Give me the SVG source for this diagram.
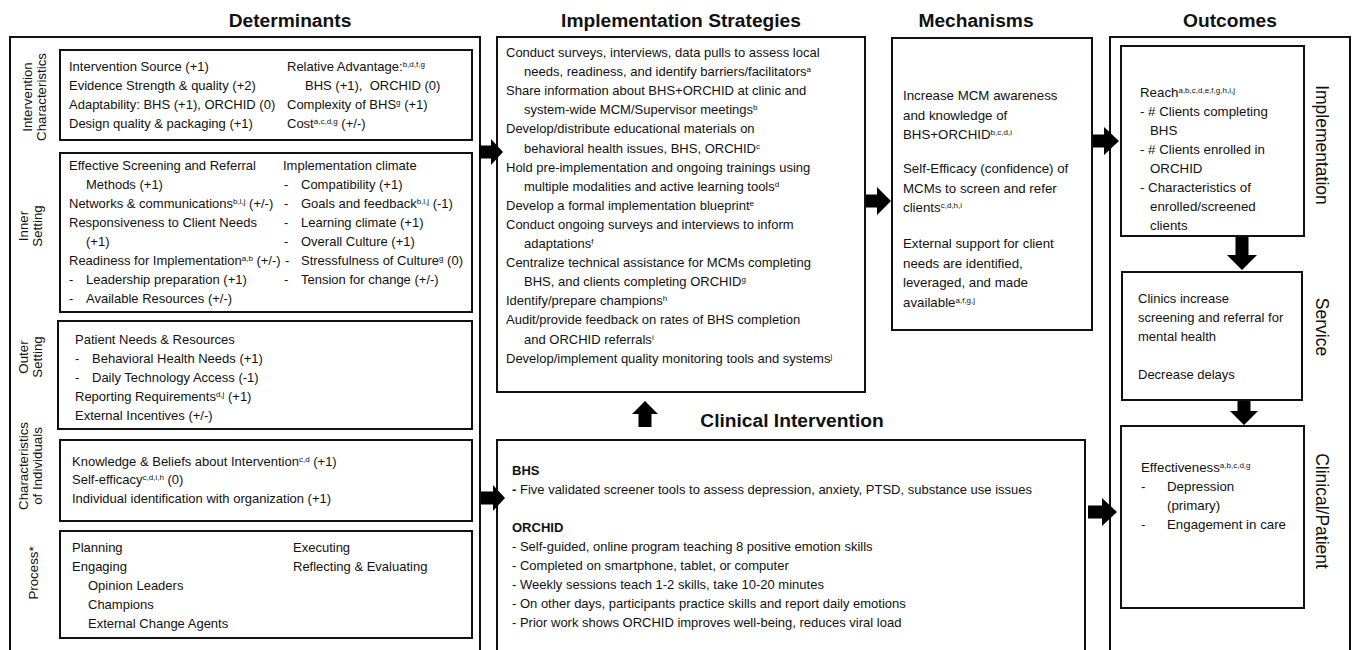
<svg xmlns="http://www.w3.org/2000/svg" width="1355" height="650" viewBox="0 0 1355 650">
<style>
text{font-family:"Liberation Sans",Arial,sans-serif;fill:#111;}
.t{font-size:13px;}
.m{font-size:13.3px;}
.h{font-size:19.2px;font-weight:bold;}
.b{font-weight:bold;}
.lbl{font-size:13.3px;text-anchor:middle;}
.rl{font-size:17.5px;text-anchor:middle;}
.box{fill:#fff;stroke:#111;stroke-width:2;}
.arr{fill:#000;stroke:none;}
.s{font-size:8px;baseline-shift:super;}
</style>
<rect width="1355" height="650" fill="#fff"/>

<g id="titles">
<text class="h" x="290" y="27" text-anchor="middle">Determinants</text>
<text class="h" x="681" y="27" text-anchor="middle">Implementation Strategies</text>
<text class="h" x="976" y="27" text-anchor="middle">Mechanisms</text>
<text class="h" x="1230" y="27" text-anchor="middle">Outcomes</text>
<text class="h" x="792" y="427" text-anchor="middle">Clinical Intervention</text>
</g>

<g id="determinants">
<rect class="box" x="10" y="37" width="470" height="630"/>
<text class="lbl" transform="translate(32,97) rotate(-90)">Intervention</text>
<text class="lbl" transform="translate(46,97) rotate(-90)">Characteristics</text>
<text class="lbl" transform="translate(28,226) rotate(-90)">Inner</text>
<text class="lbl" transform="translate(42,226) rotate(-90)">Setting</text>
<text class="lbl" transform="translate(28,357) rotate(-90)">Outer</text>
<text class="lbl" transform="translate(42,357) rotate(-90)">Setting</text>
<text class="lbl" transform="translate(28,466) rotate(-90)">Characteristics</text>
<text class="lbl" transform="translate(42,466) rotate(-90)">of Individuals</text>
<text class="lbl" transform="translate(38,573) rotate(-90)">Process*</text>
</g>

<g id="intervention-characteristics">
<rect class="box" x="60" y="50" width="412" height="90"/>
<text class="t" x="69" y="71">Intervention Source (+1)</text>
<text class="t" x="69" y="90">Evidence Strength &amp; quality (+2)</text>
<text class="t" x="69" y="109">Adaptability: BHS (+1), ORCHID (0)</text>
<text class="t" x="69" y="128">Design quality &amp; packaging (+1)</text>
<text class="t" x="287" y="71">Relative Advantage:<tspan class="s">b,d,f,g</tspan></text>
<text class="t" x="305" y="90" style="white-space:pre">BHS (+1),  ORCHID (0)</text>
<text class="t" x="287" y="109">Complexity of BHS<tspan class="s">g</tspan> (+1)</text>
<text class="t" x="287" y="128">Cost<tspan class="s">a,c,d,g</tspan> (+/-)</text>
</g>

<g id="inner-setting">
<rect class="box" x="60" y="153" width="412" height="159"/>
<text class="t" x="69" y="170">Effective Screening and Referral</text>
<text class="t" x="86" y="189">Methods (+1)</text>
<text class="t" x="69" y="208">Networks &amp; communications<tspan class="s">b,l,j</tspan> (+/-)</text>
<text class="t" x="69" y="227">Responsiveness to Client Needs</text>
<text class="t" x="86" y="246">(+1)</text>
<text class="t" x="69" y="265">Readiness for Implementation<tspan class="s">a,b</tspan> (+/-)</text>
<text class="t" x="69" y="284">-</text><text class="t" x="86" y="284">Leadership preparation (+1)</text>
<text class="t" x="69" y="303">-</text><text class="t" x="86" y="303">Available Resources (+/-)</text>
<text class="t" x="283" y="170">Implementation climate</text>
<text class="t" x="284" y="189">-</text><text class="t" x="301" y="189">Compatibility (+1)</text>
<text class="t" x="284" y="208">-</text><text class="t" x="301" y="208">Goals and feedback<tspan class="s">b,l,j</tspan> (-1)</text>
<text class="t" x="284" y="227">-</text><text class="t" x="301" y="227">Learning climate (+1)</text>
<text class="t" x="284" y="246">-</text><text class="t" x="301" y="246">Overall Culture (+1)</text>
<text class="t" x="285" y="265">-</text><text class="t" x="301" y="265">Stressfulness of Culture<tspan class="s">g</tspan> (0)</text>
<text class="t" x="284" y="284">-</text><text class="t" x="301" y="284">Tension for change (+/-)</text>
</g>

<g id="outer-setting">
<rect class="box" x="58" y="321" width="414" height="108"/>
<text class="t" x="75" y="344">Patient Needs &amp; Resources</text>
<text class="t" x="75" y="363">-</text><text class="t" x="92" y="363">Behavioral Health Needs (+1)</text>
<text class="t" x="75" y="382">-</text><text class="t" x="92" y="382">Daily Technology Access (-1)</text>
<text class="t" x="75" y="401">Reporting Requirements<tspan class="s">d,j</tspan> (+1)</text>
<text class="t" x="75" y="420">External Incentives (+/-)</text>
</g>

<g id="characteristics-individuals">
<rect class="box" x="60" y="440" width="412" height="81"/>
<text class="t" x="72" y="466">Knowledge &amp; Beliefs about Intervention<tspan class="s">c,d</tspan> (+1)</text>
<text class="t" x="72" y="484">Self-efficacy<tspan class="s">c,d,i,h</tspan> (0)</text>
<text class="t" x="72" y="503">Individual identification with organization (+1)</text>
</g>

<g id="process">
<rect class="box" x="60" y="531" width="412" height="107"/>
<text class="t" x="72" y="552">Planning</text>
<text class="t" x="72" y="571">Engaging</text>
<text class="t" x="88" y="590">Opinion Leaders</text>
<text class="t" x="88" y="609">Champions</text>
<text class="t" x="88" y="628">External Change Agents</text>
<text class="t" x="293" y="552">Executing</text>
<text class="t" x="293" y="571">Reflecting &amp; Evaluating</text>
</g>

<g id="strategies">
<rect class="box" x="497" y="37" width="368" height="355"/>
<text class="t" x="506" y="57">Conduct surveys, interviews, data pulls to assess local</text>
<text class="t" x="524" y="76.1">needs, readiness, and identify barriers/facilitators<tspan class="s">a</tspan></text>
<text class="t" x="506" y="95.2">Share information about BHS+ORCHID at clinic and</text>
<text class="t" x="524" y="114.3">system-wide MCM/Supervisor meetings<tspan class="s">b</tspan></text>
<text class="t" x="506" y="133.4">Develop/distribute educational materials on</text>
<text class="t" x="524" y="152.5">behavioral health issues, BHS, ORCHID<tspan class="s">c</tspan></text>
<text class="t" x="506" y="171.6">Hold pre-implementation and ongoing trainings using</text>
<text class="t" x="524" y="190.7">multiple modalities and active learning tools<tspan class="s">d</tspan></text>
<text class="t" x="506" y="209.8">Develop a formal implementation blueprint<tspan class="s">e</tspan></text>
<text class="t" x="506" y="228.9">Conduct ongoing surveys and interviews to inform</text>
<text class="t" x="524" y="248">adaptations<tspan class="s">f</tspan></text>
<text class="t" x="506" y="267.1">Centralize technical assistance for MCMs completing</text>
<text class="t" x="524" y="286.2">BHS, and clients completing ORCHID<tspan class="s">g</tspan></text>
<text class="t" x="506" y="305.3">Identify/prepare champions<tspan class="s">h</tspan></text>
<text class="t" x="506" y="324.4">Audit/provide feedback on rates of BHS completion</text>
<text class="t" x="524" y="343.5">and ORCHID referrals<tspan class="s">i</tspan></text>
<text class="t" x="506" y="362.6">Develop/implement quality monitoring tools and systems<tspan class="s">j</tspan></text>
</g>

<g id="clinical-intervention">
<rect class="box" x="497" y="440" width="588" height="230"/>
<text class="t b" x="512" y="475">BHS</text>
<text class="t" x="512" y="494"><tspan class="b">-</tspan> Five validated screener tools to assess depression, anxiety, PTSD, substance use issues</text>
<text class="t b" x="512" y="532">ORCHID</text>
<text class="t" x="512" y="551">- Self-guided, online program teaching 8 positive emotion skills</text>
<text class="t" x="512" y="570">- Completed on smartphone, tablet, or computer</text>
<text class="t" x="512" y="589">- Weekly sessions teach 1-2 skills, take 10-20 minutes</text>
<text class="t" x="512" y="608">- On other days, participants practice skills and report daily emotions</text>
<text class="t" x="512" y="627">- Prior work shows ORCHID improves well-being, reduces viral load</text>
</g>

<g id="mechanisms">
<rect class="box" x="892" y="38" width="200" height="292"/>
<text class="m" x="903" y="100">Increase MCM awareness</text>
<text class="m" x="903" y="119.5">and knowledge of</text>
<text class="m" x="903" y="139">BHS+ORCHID<tspan class="s">b,c,d,i</tspan></text>
<text class="m" x="903" y="173">Self-Efficacy (confidence) of</text>
<text class="m" x="903" y="192.5">MCMs to screen and refer</text>
<text class="m" x="903" y="212">clients<tspan class="s">c,d,h,i</tspan></text>
<text class="m" x="903" y="248">External support for client</text>
<text class="m" x="903" y="267.5">needs are identified,</text>
<text class="m" x="903" y="287">leveraged, and made</text>
<text class="m" x="903" y="306.5">available<tspan class="s">a,f,g,j</tspan></text>
</g>

<g id="outcomes">
<rect class="box" x="1110" y="37" width="240" height="630"/>
<text class="rl" transform="translate(1316,145) rotate(90)">Implementation</text>
<text class="rl" transform="translate(1316,327) rotate(90)">Service</text>
<text class="rl" transform="translate(1316,511) rotate(90)">Clinical/Patient</text>
</g>

<g id="outcome-implementation">
<rect class="box" x="1121" y="46" width="183" height="190"/>
<text class="m" x="1140" y="97">Reach<tspan class="s">a,b,c,d,e,f,g,h,i,j</tspan></text>
<text class="m" x="1140" y="116">- # Clients completing</text>
<text class="m" x="1150" y="135">BHS</text>
<text class="m" x="1140" y="154">- # Clients enrolled in</text>
<text class="m" x="1150" y="173">ORCHID</text>
<text class="m" x="1140" y="192">- Characteristics of</text>
<text class="m" x="1150" y="211">enrolled/screened</text>
<text class="m" x="1150" y="230">clients</text>
</g>

<g id="outcome-service">
<rect class="box" x="1122" y="272" width="180" height="128"/>
<text class="t" x="1138" y="303">Clinics increase</text>
<text class="t" x="1138" y="322">screening and referral for</text>
<text class="t" x="1138" y="341">mental health</text>
<text class="t" x="1138" y="379">Decrease delays</text>
</g>

<g id="outcome-clinical">
<rect class="box" x="1121" y="426" width="183" height="182"/>
<text class="m" x="1141" y="472">Effectiveness<tspan class="s">a,b,c,d,g</tspan></text>
<text class="m" x="1141" y="491">-</text><text class="m" x="1167" y="491">Depression</text>
<text class="m" x="1167" y="510">(primary)</text>
<text class="m" x="1141" y="529">-</text><text class="m" x="1167" y="529">Engagement in care</text>
</g>

<g id="connectors">
<path class="arr" d="M479,145.5 H491 V139 L503,152 L491,165 V158.5 H479 Z"/>
<path class="arr" d="M481,491.5 H493 V485 L505,498 L493,511 V504.5 H481 Z"/>
<path class="arr" d="M866,194.5 H877 V187 L891,201 L877,215 V207.5 H866 Z"/>
<path class="arr" d="M1093,134.5 H1104 V127 L1119,141 L1104,155 V147.5 H1093 Z"/>
<path class="arr" d="M1088,505.5 H1102 V498 L1117,512 L1102,526 V518.5 H1088 Z"/>
<path class="arr" d="M1235.5,237 V255 H1227 L1242,270 L1257,255 H1248.5 V237 Z"/>
<path class="arr" d="M1237.5,401 V411 H1230 L1244,425 L1258,411 H1250.5 V401 Z"/>
<path class="arr" d="M638.5,427 V414 H632 L645,401 L658,414 H651.5 V427 Z"/>
</g>
</svg>
